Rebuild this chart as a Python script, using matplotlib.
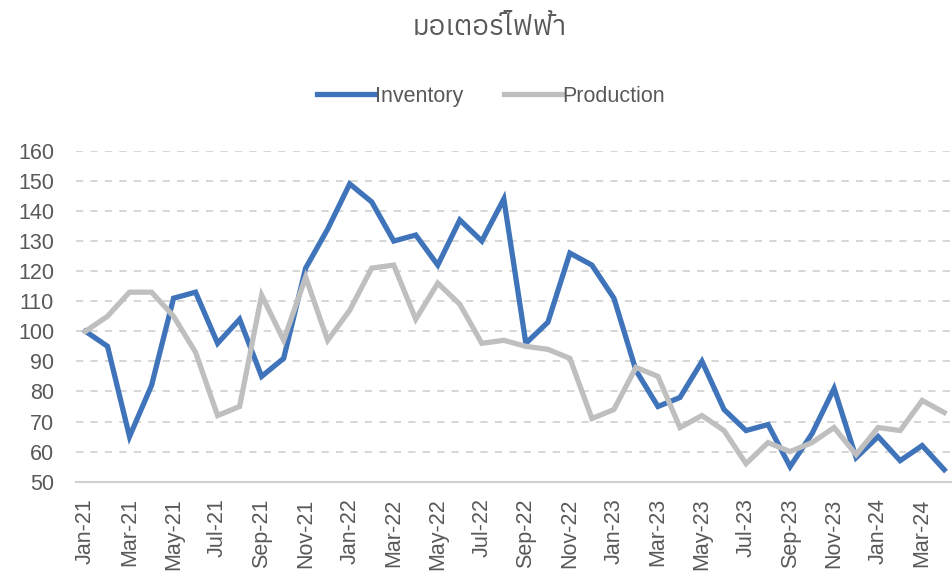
import matplotlib
matplotlib.use("Agg")
import matplotlib.pyplot as plt
from matplotlib import font_manager

months = ["Jan", "Feb", "Mar", "Apr", "May", "Jun", "Jul", "Aug", "Sep", "Oct", "Nov", "Dec"]
categories = [f"{months[i % 12]}-{21 + i // 12}" for i in range(40)]

inventory = [100, 95, 65, 82, 111, 113, 96, 104, 85, 91, 121, 134, 149, 143, 130, 132,
             122, 137, 130, 144, 96, 103, 126, 122, 111, 87, 75, 78, 90, 74, 67, 69,
             55, 66, 81, 58, 65, 57, 62, 54]
production = [100, 105, 113, 113, 105, 93, 72, 75, 112, 97, 118, 97, 107, 121, 122, 104,
              116, 109, 96, 97, 95, 94, 91, 71, 74, 88, 85, 68, 72, 67, 56, 63,
              60, 63, 68, 59, 68, 67, 77, 73]
title_text = "มอเตอร์ไฟฟ้า"
yticks = list(range(50, 161, 10))

# find a font containing Thai glyphs
thai_family = None
try:
    from fontTools.ttLib import TTFont
    for fe in font_manager.fontManager.ttflist:
        try:
            f = TTFont(fe.fname, fontNumber=0, lazy=True)
            cmap = f.getBestCmap()
            if cmap and ord("ม") in cmap and ord("ฟ") in cmap:
                thai_family = fe.name
                if "Sans" in fe.name:
                    break
        except Exception:
            continue
except Exception:
    pass

fam = [thai_family, "Liberation Sans", "DejaVu Sans"] if thai_family else ["Liberation Sans", "DejaVu Sans"]
plt.rcParams["font.family"] = ["Liberation Sans", "DejaVu Sans"]

text_color = "#595959"
fig = plt.figure(figsize=(9.53, 5.8), dpi=100)
ax = fig.add_axes([0.08, 0.1695, 0.92, 0.5705])

x = list(range(len(categories)))
l1, = ax.plot(x, inventory, color="#3F74BA", lw=3.8, solid_joinstyle="miter", label="Inventory")
l2, = ax.plot(x, production, color="#BFBFBF", lw=3.8, solid_joinstyle="miter", label="Production")

ax.set_ylim(50, 160)
ax.set_yticks(yticks)
ax.set_xlim(-0.42, 39.4)
ax.set_xticks(x[::2])
ax.set_xticklabels(categories[::2], rotation=90)
ax.tick_params(axis="both", length=0, labelsize=15.5, colors=text_color)
ax.tick_params(axis="y", pad=16)
ax.tick_params(axis="x", pad=12)

ax.grid(axis="y", color="#D3D3D3", linestyle=(0, (4, 4)), lw=1.3)
ax.grid(axis="x", visible=False)
ax.set_axisbelow(True)
for s in ["top", "right", "left"]:
    ax.spines[s].set_visible(False)
ax.spines["bottom"].set_color("#D0D0D0")
ax.spines["bottom"].set_linewidth(1.5)
ax.set_facecolor("white")

fig.text(0.514, 0.952, title_text, ha="center", va="center", fontsize=20,
         color=text_color, family=fam)

fig.legend(handles=[l1, l2], loc="center", bbox_to_anchor=(0.515, 0.834), ncol=2,
           frameon=False, fontsize=15.5, handlelength=2.7, handletextpad=0.0,
           columnspacing=1.9, labelcolor=text_color)

fig.savefig("out.png", dpi=100, facecolor="white")
